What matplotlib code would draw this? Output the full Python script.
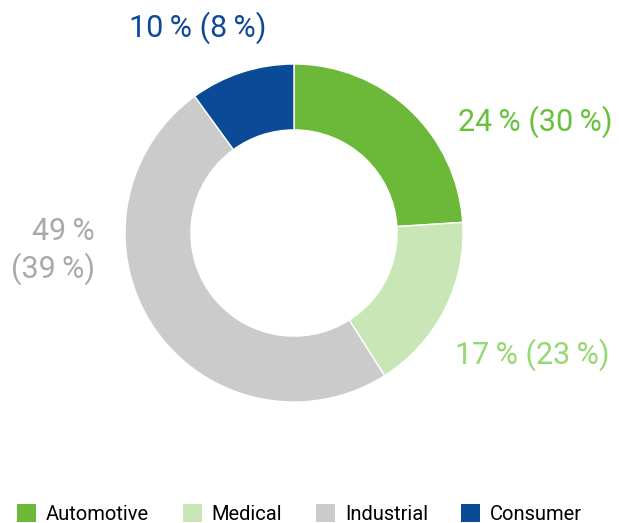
import matplotlib
matplotlib.use("Agg")
import matplotlib.pyplot as plt
from matplotlib.patches import Patch

plt.rcParams['font.family'] = ['Roboto', 'DejaVu Sans']

# data
categories = ['Automotive', 'Medical', 'Industrial', 'Consumer']
shares = [24, 17, 49, 10]
prev_shares = [30, 23, 39, 8]
colors = ['#6cb93a', '#c9e6b6', '#cbcbcb', '#0b4a96']
label_colors = ['#66c23a', '#95d872', '#a9a9a9', '#0b4a96']

W, H = 619, 523
fig = plt.figure(figsize=(W / 100, H / 100), dpi=100)

cx, cy, r = 294, 233, 169
ax = fig.add_axes([(cx - r) / W, (H - cy - r) / H, 2 * r / W, 2 * r / H])
ax.pie(shares, colors=colors, startangle=90, counterclock=False,
       wedgeprops=dict(width=0.39, edgecolor='white', linewidth=1))
ax.set_xlim(-1, 1)
ax.set_ylim(-1, 1)
ax.set_aspect('equal')
ax.axis('off')

ts = '\u2009'
fs = 22
def lab(i):
    return f"{shares[i]}{ts}% ({prev_shares[i]}{ts}%)"

# label positions in pixels
fig.text(458 / W, 1 - 122 / H, lab(0), color=label_colors[0], fontsize=fs,
         ha='left', va='center')
fig.text(455 / W, 1 - 355 / H, lab(1), color=label_colors[1], fontsize=fs,
         ha='left', va='center')
fig.text(95 / W, 1 - 251 / H, f"{shares[2]}{ts}%\n({prev_shares[2]}{ts}%)",
         color=label_colors[2], fontsize=fs, ha='right', va='center',
         multialignment='right', linespacing=1.25)
fig.text(198 / W, 1 - 28 / H, lab(3), color=label_colors[3], fontsize=fs,
         ha='center', va='center')

handles = [Patch(facecolor=c, edgecolor='none') for c in colors]
fig.legend(handles, categories, loc='center left', ncol=4,
           bbox_to_anchor=(17 / W, 1 - 514 / H), frameon=False, fontsize=14.5,
           handlelength=0.95, handleheight=0.95, handletextpad=0.5,
           columnspacing=1.65, borderpad=0, borderaxespad=0)

fig.savefig('out.png', dpi=100)
